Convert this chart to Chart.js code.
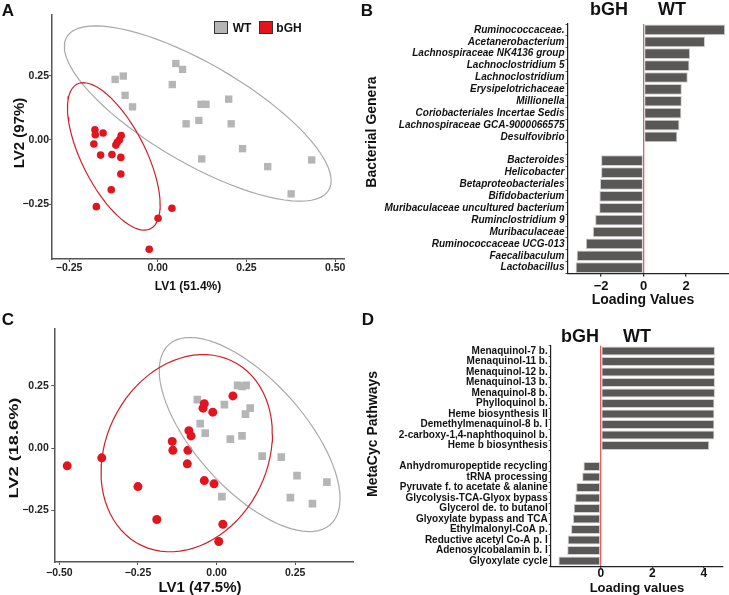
<!DOCTYPE html>
<html>
<head>
<meta charset="utf-8">
<script src="https://cdn.jsdelivr.net/npm/chart.js@4.4.1/dist/chart.umd.min.js"></script>
<style>
  body { margin: 0; background: #fff; }
  #page { position: relative; width: 729px; height: 595px; overflow: hidden; font-family: "Liberation Sans", Arial, sans-serif; }
  canvas { position: absolute; }
  .t { position: absolute; font-weight: bold; color: #111; white-space: nowrap; transform: translate(-50%, -50%); line-height: 1; }
  .rot { transform: translate(-50%, -50%) rotate(-90deg); }
  .box { position: absolute; width: 12px; height: 11px; border: 1.5px solid #333; }
</style>
</head>
<body>
<div id="page">
  <canvas id="chartA" width="365" height="300" style="left:0;top:0"></canvas>
  <canvas id="chartB" width="364" height="300" style="left:365px;top:0"></canvas>
  <canvas id="chartC" width="365" height="295" style="left:0;top:300px"></canvas>
  <canvas id="chartD" width="364" height="295" style="left:365px;top:300px"></canvas>

  <div class="t" style="left:8px;top:10px;font-size:17px">A</div>
  <div class="t" style="left:367px;top:10px;font-size:17px">B</div>
  <div class="t" style="left:8px;top:319px;font-size:17px">C</div>
  <div class="t" style="left:368px;top:319px;font-size:17px">D</div>

  <div class="box" style="left:214px;top:21px;background:#b5b5b5"></div>
  <div class="t" style="left:242px;top:28px;font-size:12px">WT</div>
  <div class="box" style="left:259px;top:21px;background:#e2141d"></div>
  <div class="t" style="left:289px;top:28px;font-size:12px">bGH</div>

  <div class="t" style="left:609px;top:9px;font-size:18px">bGH</div>
  <div class="t" style="left:672px;top:9px;font-size:18px">WT</div>
  <div class="t" style="left:580px;top:336px;font-size:18px">bGH</div>
  <div class="t" style="left:637px;top:336px;font-size:18px">WT</div>

  <div class="t" style="left:188px;top:286px;font-size:12px">LV1 (51.4%)</div>
  <div class="t rot" style="left:18px;top:133px;font-size:15px">LV2 (97%)</div>
  <div class="t" style="left:643px;top:299px;font-size:14px">Loading Values</div>
  <div class="t rot" style="left:371px;top:132px;font-size:14px">Bacterial Genera</div>
  <div class="t" style="left:200px;top:586px;font-size:15px">LV1 (47.5%)</div>
  <div class="t" style="left:13px;top:448px;font-size:13px;transform:translate(-50%,-50%) rotate(-90deg) scaleX(1.4)">LV2 (18.6%)</div>
  <div class="t" style="left:637px;top:587px;font-size:13px">Loading values</div>
  <div class="t rot" style="left:372px;top:434px;font-size:14px">MetaCyc Pathways</div>
</div>

<script>
// panel A - PLS-DA scores, microbiome
var aWtX = [-0.120, -0.097, -0.092, -0.071, 0.051, 0.070, 0.041, 0.122, 0.136, 0.116, 0.080, 0.200, 0.207, 0.239, 0.124, 0.310, 0.376, 0.434];
var aWtY = [0.236, 0.249, 0.174, 0.129, 0.298, 0.275, 0.216, 0.139, 0.139, 0.076, 0.063, 0.159, 0.063, -0.034, -0.074, -0.104, -0.210, -0.078];
var aBghX = [-0.177, -0.176, -0.180, -0.154, -0.103, -0.108, -0.114, -0.118, -0.161, -0.129, -0.104, -0.104, -0.131, -0.173, 0.001, 0.040, -0.024];
var aBghY = [0.040, 0.020, -0.016, 0.027, 0.017, 0.001, -0.009, -0.020, -0.059, -0.057, -0.068, -0.133, -0.194, -0.260, -0.305, -0.266, -0.426];
var aXTicks = [-0.25, 0, 0.25, 0.5];
var aYTicks = [-0.25, 0, 0.25];

// panel C - PLS-DA scores, pathways
var cWtX = [-0.061, -0.052, -0.036, 0.025, 0.044, 0.067, 0.081, 0.094, 0.081, 0.092, 0.107, 0.145, 0.206, 0.256, 0.235, 0.305, 0.351, 0.017];
var cWtY = [0.194, 0.098, 0.060, 0.174, 0.036, 0.251, 0.247, 0.251, 0.049, 0.136, 0.160, -0.032, -0.036, -0.110, -0.198, -0.222, -0.136, -0.194];
var cBghX = [-0.475, -0.365, -0.250, -0.190, -0.141, -0.139, -0.093, -0.091, -0.088, -0.081, -0.043, -0.039, -0.012, 0.052, -0.039, -0.008, 0.020, 0.007];
var cBghY = [-0.071, -0.039, -0.154, -0.286, 0.027, -0.009, -0.063, -0.009, 0.070, 0.049, 0.160, 0.178, 0.144, 0.209, -0.130, -0.143, -0.305, -0.374];
var cXTicks = [-0.5, -0.25, 0, 0.25];
var cYTicks = [-0.25, 0, 0.25];

// panel B - genera loadings (blank row splits WT / bGH)
var bGenera = ["Ruminococcaceae.", "Acetanerobacterium", "Lachnospiraceae NK4136 group", "Lachnoclostridium 5", "Lachnoclostridium",
  "Erysipelotrichaceae", "Millionella", "Coriobacteriales Incertae Sedis", "Lachnospiraceae GCA-9000066575", "Desulfovibrio", "",
  "Bacteroides", "Helicobacter", "Betaproteobacteriales", "Bifidobacterium", "Muribaculaceae uncultured bacterium",
  "Ruminclostridium 9", "Muribaculaceae", "Ruminococcaceae UCG-013", "Faecalibaculum", "Lactobacillus"];
var bLoadings = [3.84, 2.89, 2.19, 2.16, 2.08, 1.80, 1.80, 1.78, 1.69, 1.59, null,
  -2.00, -2.00, -2.05, -2.08, -2.09, -2.28, -2.39, -2.72, -3.15, -3.20];
var bTicks = [-2, 0, 2];

// panel D - pathway loadings
var dPathways = ["Menaquinol-7 b.", "Menaquinol-11 b.", "Menaquinol-12 b.", "Menaquinol-13 b.", "Menaquinol-8 b.",
  "Phylloquinol b.", "Heme biosynthesis II", "Demethylmenaquinol-8 b. I", "2-carboxy-1,4-naphthoquinol b.", "Heme b biosynthesis", "",
  "Anhydromuropeptide recycling", "tRNA processing", "Pyruvate f. to acetate & alanine", "Glycolysis-TCA-Glyox bypass",
  "Glycerol de. to butanol", "Glyoxylate bypass and TCA", "Ethylmalonyl-CoA p.", "Reductive acetyl Co-A p. I",
  "Adenosylcobalamin b. I", "Glyoxylate cycle"];
var dLoadings = [4.43, 4.43, 4.43, 4.43, 4.43, 4.41, 4.41, 4.41, 4.41, 4.21, null,
  -0.67, -0.72, -0.95, -0.99, -1.05, -1.08, -1.15, -1.28, -1.30, -1.64];
var dTicks = [0, 2, 4];

var FONT = '"Liberation Sans", Arial, sans-serif';
var RED = '#e2141d';
var GREY = '#b5b5b5';
var AXIS = '#555555';

function toPoints(xs, ys) {
  var pts = [];
  for (var i = 0; i < xs.length; i++) pts.push({ x: xs[i], y: ys[i] });
  return pts;
}

// 95% ellipse like ggplot stat_ellipse (robust t covariance, MASS::cov.trob)
function ellipse(xs, ys) {
  var n = xs.length, nu = 5, p = 2, i;
  var w = [], mx = 0, my = 0;
  for (i = 0; i < n; i++) { w.push(1); mx += xs[i] / n; my += ys[i] / n; }
  var lx = mx, ly = my;
  for (var it = 0; it < 25; it++) {
    var w0 = w.slice(), sw = 0, sxx = 0, sxy = 0, syy = 0;
    lx = mx; ly = my;
    for (i = 0; i < n; i++) {
      var dx = xs[i] - lx, dy = ys[i] - ly;
      sw += w[i]; sxx += w[i] * dx * dx; sxy += w[i] * dx * dy; syy += w[i] * dy * dy;
    }
    sxx /= sw; sxy /= sw; syy /= sw;
    var det = sxx * syy - sxy * sxy;
    var tw = 0, tx = 0, ty = 0;
    for (i = 0; i < n; i++) {
      var ex = xs[i] - lx, ey = ys[i] - ly;
      var q = (syy * ex * ex - 2 * sxy * ex * ey + sxx * ey * ey) / det;
      w[i] = (nu + p) / (nu + q);
      tw += w[i]; tx += w[i] * xs[i]; ty += w[i] * ys[i];
    }
    mx = tx / tw; my = ty / tw;
    var done = true;
    for (i = 0; i < n; i++) if (Math.abs(w[i] - w0[i]) >= 0.01) done = false;
    if (done) break;
  }
  var cxx = 0, cxy = 0, cyy = 0;
  for (i = 0; i < n; i++) {
    var fx = xs[i] - lx, fy = ys[i] - ly;
    cxx += w[i] * fx * fx / n; cxy += w[i] * fx * fy / n; cyy += w[i] * fy * fy / n;
  }
  var d2 = n - 1;
  var qf = d2 / 2 * (Math.pow(0.05, -2 / d2) - 1);
  var r = Math.sqrt(2 * qf);
  var a = Math.sqrt(cxx), b = cxy / a, c = Math.sqrt(cyy - b * b);
  var out = [];
  for (var k = 0; k <= 80; k++) {
    var t = k * 2 * Math.PI / 80;
    out.push({ x: mx + r * a * Math.cos(t), y: my + r * (b * Math.cos(t) + c * Math.sin(t)) });
  }
  return out;
}

function fmt2(v) {
  return v.toFixed(2).replace('-', '\u2212');
}
function fmt0(v) {
  return String(v).replace('-', '\u2212');
}

function fixTicks(list) {
  return function (scale) {
    scale.ticks = list.map(function (v) { return { value: v }; });
  };
}

function scatterChart(id, wtX, wtY, bX, bY, opt) {
  return new Chart(document.getElementById(id), {
    type: 'scatter',
    data: {
      datasets: [
        { data: ellipse(bX, bY), showLine: true, pointRadius: 0, borderColor: '#cf2027', borderWidth: 1.2, fill: false },
        { data: ellipse(wtX, wtY), showLine: true, pointRadius: 0, borderColor: '#a9a9a9', borderWidth: 1.2, fill: false },
        { label: 'bGH', data: toPoints(bX, bY), pointStyle: 'circle', pointRadius: opt.dot, backgroundColor: RED, borderWidth: 0 },
        { label: 'WT', data: toPoints(wtX, wtY), pointStyle: 'rect', pointRadius: opt.sq, backgroundColor: GREY, borderWidth: 0 }
      ]
    },
    options: {
      responsive: false,
      animation: false,
      layout: { padding: { top: opt.top, right: opt.right, left: 0, bottom: 0 } },
      plugins: { legend: { display: false }, tooltip: { enabled: false } },
      scales: {
        x: {
          min: opt.xMin, max: opt.xMax,
          afterBuildTicks: fixTicks(opt.xTicks),
          afterFit: function (s) { s.height = opt.xH; },
          grid: { drawOnChartArea: false, tickLength: 3, tickColor: AXIS },
          border: { color: AXIS, width: 1.5 },
          ticks: { padding: opt.xPad, color: '#222', font: { family: FONT, size: 10.5, weight: 'bold', lineHeight: 1 }, callback: fmt2 }
        },
        y: {
          min: opt.yMin, max: opt.yMax,
          afterBuildTicks: fixTicks(opt.yTicks),
          afterFit: function (s) { s.width = opt.yW; },
          grid: { drawOnChartArea: false, tickLength: 3, tickColor: AXIS },
          border: { color: AXIS, width: 1.5 },
          ticks: { padding: opt.yPad, color: '#222', font: { family: FONT, size: 10.5, weight: 'bold' }, callback: fmt2 }
        }
      }
    }
  });
}

function loadingChart(id, labels, values, opt) {
  return new Chart(document.getElementById(id), {
    type: 'bar',
    data: {
      labels: labels,
      datasets: [{
        data: values,
        backgroundColor: '#5a5757',
        borderColor: '#cfcfcf',
        borderWidth: 1,
        borderSkipped: false,
        barPercentage: opt.bar,
        categoryPercentage: 1
      }]
    },
    options: {
      indexAxis: 'y',
      responsive: false,
      animation: false,
      layout: { padding: { top: opt.top, right: opt.right, left: 0, bottom: 0 } },
      plugins: { legend: { display: false }, tooltip: { enabled: false } },
      scales: {
        x: {
          min: opt.xMin, max: opt.xMax,
          afterBuildTicks: fixTicks(opt.xTicks),
          afterFit: function (s) { s.height = opt.xH; },
          grid: {
            drawOnChartArea: true,
            tickLength: opt.tl,
            tickColor: '#222',
            lineWidth: 1.3,
            color: function (ctx) { return ctx.tick && ctx.tick.value === 0 ? '#e5625c' : 'rgba(0,0,0,0)'; }
          },
          border: { color: '#222', width: 1.2 },
          ticks: { padding: opt.xPad, color: '#111', font: { family: FONT, size: opt.xFont, weight: 'bold', lineHeight: 1 }, callback: fmt0 }
        },
        y: {
          afterFit: function (s) { s.width = opt.yW; },
          grid: { drawOnChartArea: false, tickLength: 2, tickColor: '#555' },
          border: { color: '#222', width: 1.2 },
          ticks: { padding: 1, color: '#111', autoSkip: false, font: { family: FONT, size: 10, weight: 'bold', style: opt.italic ? 'italic' : 'normal' } }
        }
      }
    }
  });
}

scatterChart('chartA', aWtX, aWtY, aBghX, aBghY, {
  top: 15, right: 21, xH: 41, yW: 52, xPad: 1, yPad: 0, dot: 3.8, sq: 5.2,
  xMin: -0.298, xMax: 0.525, yMin: -0.464, yMax: 0.487, xTicks: aXTicks, yTicks: aYTicks
});

scatterChart('chartC', cWtX, cWtY, cBghX, cBghY, {
  top: 29, right: 12, xH: 33, yW: 54.3, xPad: 2.5, yPad: 2.5, dot: 4.5, sq: 5.4,
  xMin: -0.516, xMax: 0.434, yMin: -0.456, yMax: 0.477, xTicks: cXTicks, yTicks: cYTicks
});

loadingChart('chartB', bGenera, bLoadings, {
  top: 24, right: 0, xH: 26.4, yW: 202.5, xPad: 3.6, tl: 3, xFont: 13, bar: 0.9, italic: true,
  xMin: -3.58, xMax: 4.02, xTicks: bTicks
});

loadingChart('chartD', dPathways, dLoadings, {
  top: 45.75, right: 6.3, xH: 28.75, yW: 185.7, xPad: -1, tl: 2, xFont: 12, bar: 0.88, italic: false,
  xMin: -1.94, xMax: 4.73, xTicks: dTicks
});
</script>
</body>
</html>
